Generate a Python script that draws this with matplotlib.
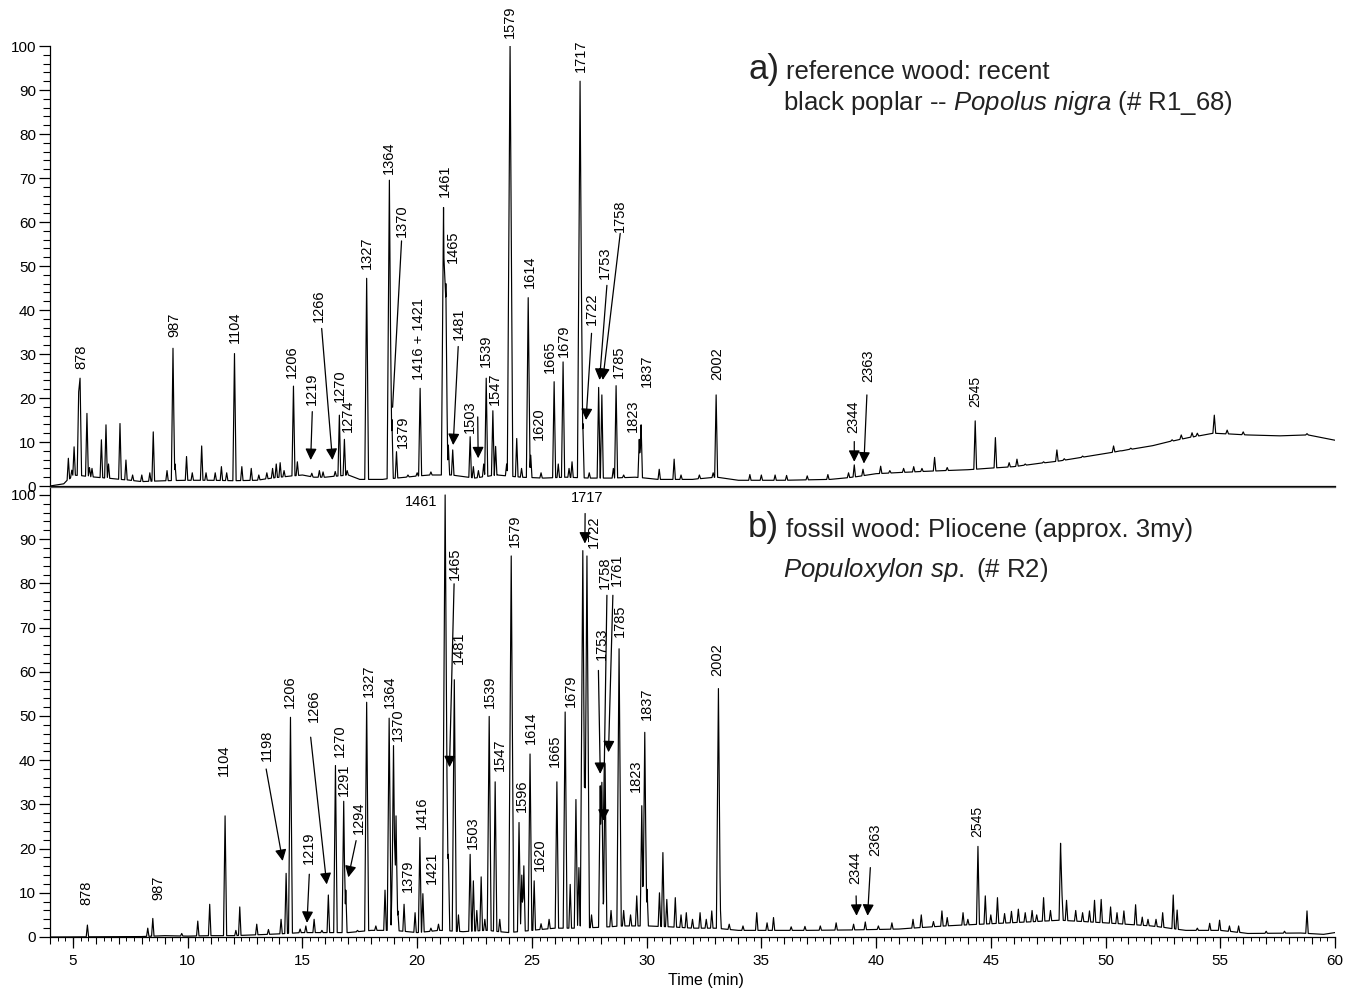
import numpy as np
import matplotlib
matplotlib.use("Agg")
import matplotlib.pyplot as plt
from matplotlib.ticker import MultipleLocator

plt.rcParams['font.family'] = ['Liberation Sans', 'DejaVu Sans']
plt.rcParams['mathtext.fontset'] = 'custom'
plt.rcParams['mathtext.rm'] = 'Liberation Sans'
plt.rcParams['mathtext.it'] = 'Liberation Sans:italic'

# ---------------- panel a) reference wood ----------------
a_base_t = [4.0, 4.6, 4.75, 5.0, 6.0, 7.5, 8.0, 9.0, 10.0, 11.0, 12.0, 13.0, 14.0, 15.0,
            15.5, 16.0, 17.0, 17.5, 18.5, 19.5, 20.5, 21.5, 22.5, 23.5, 24.5, 25.5, 26.5,
            27.5, 28.5, 29.5, 30.5, 32.0, 33.0, 34.0, 36.0, 38.0, 39.0, 40.0, 42.0, 44.0,
            46.0, 48.0, 50.0, 52.0, 53.25, 54.7, 56.2, 57.6, 58.8, 60.0]
a_base_h = [0.0, 0.5, 1.0, 2.5, 2.0, 1.3, 1.0, 1.2, 1.3, 1.3, 1.2, 1.3, 2.0, 2.5,
            2.0, 2.0, 2.5, 1.5, 1.5, 2.0, 2.5, 2.5, 1.8, 2.5, 2.0, 1.8, 2.0,
            1.8, 1.8, 2.0, 1.5, 1.5, 2.0, 1.3, 1.3, 1.5, 2.0, 2.8, 3.3, 3.7,
            4.4, 5.7, 7.4, 9.1, 10.6, 12.0, 11.6, 11.4, 11.6, 10.4]

a_peak_t = [4.80, 4.95, 5.05, 5.25, 5.31, 5.61, 5.72, 5.83, 6.24, 6.44, 6.55, 7.05, 7.31,
            7.6, 8.0, 8.35, 8.50, 9.1, 9.36, 9.45, 9.95, 10.2, 10.61, 10.8, 11.2, 11.47,
            11.7, 12.04, 12.36, 12.77, 13.1, 13.45, 13.7, 13.86, 14.03, 14.2, 14.61, 14.78,
            15.41, 15.74, 15.9, 16.43, 16.61, 16.83, 16.95, 17.80, 18.79, 18.90, 19.10,
            19.6, 20.0, 20.13, 20.6, 21.15, 21.25, 21.36, 21.55, 22.31, 22.45, 22.67, 22.9,
            23.01, 23.30, 23.42, 23.9, 24.05, 24.34, 24.55, 24.84, 24.95, 25.4, 25.97,
            26.15, 26.36, 26.62, 26.75, 27.10, 27.22, 27.5, 27.91, 28.05, 28.55, 28.67,
            29.0, 29.68, 29.76, 30.55, 31.20, 31.5, 32.3, 32.9, 33.03, 34.5, 35.0, 35.6,
            36.1, 37.0, 37.9, 38.8, 39.05, 39.43, 40.2, 40.6, 41.2, 41.64, 42.0, 42.55,
            43.1, 44.32, 45.2, 45.8, 46.14, 46.5, 47.3, 47.88, 48.2, 49.0, 50.35, 50.7,
            51.1, 51.3, 52.0, 52.9, 53.3, 53.77, 54.0, 54.74, 55.3, 56.0, 58.78]
a_peak_h = [6.3, 3.6, 8.9, 21.4, 24.5, 16.5, 4.2, 4.0, 10.5, 13.9, 5.0, 14.2, 5.9,
            2.5, 2.5, 3.0, 12.3, 3.5, 31.3, 5.0, 6.7, 3.0, 9.1, 3.0, 3.0, 4.4,
            3.0, 30.1, 4.4, 4.0, 2.5, 3.0, 4.0, 5.0, 5.3, 3.5, 22.7, 5.5,
            2.9, 3.5, 3.2, 3.3, 16.1, 10.6, 3.5, 47.2, 69.5, 15.1, 7.8,
            2.5, 3.0, 22.2, 3.2, 63.3, 46.0, 9.3, 8.2, 11.2, 4.4, 3.5, 5.0,
            24.5, 17.1, 9.0, 5.0, 100.0, 10.8, 4.0, 42.8, 7.0, 3.0, 23.7,
            5.0, 28.2, 4.0, 5.5, 92.0, 14.2, 3.0, 22.4, 20.7, 4.0, 22.8,
            2.5, 10.6, 13.9, 3.8, 6.1, 2.5, 2.5, 3.0, 20.7, 2.6, 2.5, 2.5,
            2.4, 2.3, 2.6, 3.0, 4.8, 3.8, 4.5, 3.5, 4.0, 4.4, 4.0, 6.5,
            4.2, 14.8, 11.0, 5.3, 6.1, 5.0, 5.5, 8.2, 6.2, 6.8, 9.1, 7.8,
            8.6, 8.2, 9.0, 10.5, 11.6, 12.1, 12.0, 16.1, 12.7, 12.3, 11.9]

a_lab_text = ['878', '987', '1104', '1206', '1219', '1266', '1270', '1274', '1327', '1364',
              '1370', '1379', '1416 + 1421', '1461', '1465', '1481', '1503', '1539', '1547',
              '1579', '1614', '1620', '1665', '1679', '1717', '1722', '1753', '1758', '1785',
              '1823', '1837', '2002', '2344', '2363']
a_lab_t = [5.35, 9.41, 12.06, 14.56, 15.41, 15.73, 16.64, 16.98, 17.80, 18.75,
           19.33, 19.37, 20.06, 21.19, 21.55, 21.83, 22.28, 22.99, 23.40,
           24.02, 24.92, 25.29, 25.80, 26.41, 27.13, 27.61, 28.19, 28.85, 28.77,
           29.40, 30.01, 33.06, 39.02, 39.67]
a_lab_y = [26.7, 33.9, 32.4, 24.5, 18.4, 37.3, 19.2, 12.2, 49.4, 71.0,
           56.5, 8.6, 24.1, 65.7, 50.6, 33.2, 12.0, 27.1, 18.4,
           101.9, 45.1, 10.4, 25.6, 29.4, 94.1, 36.6, 47.1, 57.8, 24.5,
           12.3, 22.6, 24.1, 12.0, 23.7]
# pointers: start t, start y, end t, end y, arrow head
a_arr = [(15.43, 16.9, 15.36, 5.9, True), (15.84, 35.8, 16.31, 5.9, True),
         (19.32, 55.7, 18.93, 17.9, False), (21.79, 31.7, 21.57, 9.3, True),
         (22.64, 15.7, 22.66, 6.3, True), (27.60, 34.7, 27.36, 15.0, True),
         (28.27, 45.6, 27.95, 24.1, True), (28.85, 57.4, 28.09, 24.1, True),
         (39.05, 10.1, 39.05, 5.5, True), (39.60, 20.7, 39.47, 5.1, True)]

# ---------------- panel b) fossil wood ----------------
b_base_t = [4.0, 8.0, 9.0, 10.0, 11.0, 12.0, 13.0, 14.0, 15.0, 16.0, 17.0, 18.0, 19.0, 20.0,
            21.0, 22.0, 23.0, 24.0, 25.0, 26.0, 27.0, 28.0, 29.0, 30.0, 31.0, 32.0, 33.0,
            34.0, 35.0, 37.0, 39.0, 41.0, 43.0, 45.0, 47.0, 48.0, 50.0, 52.0, 53.5, 55.0,
            56.2, 58.5, 59.5, 60.0]
b_base_h = [0.0, 0.1, 0.3, 0.2, 0.3, 0.3, 0.5, 0.7, 1.0, 1.0, 1.0, 1.5, 1.5, 1.0,
            1.5, 1.2, 1.5, 1.0, 1.5, 2.0, 2.0, 2.2, 2.5, 2.5, 2.3, 2.0, 2.0,
            1.5, 1.5, 1.5, 1.6, 1.8, 2.5, 3.0, 3.5, 3.8, 3.2, 2.5, 1.5, 1.5,
            0.8, 0.9, 0.6, 1.0]

b_peak_t = [5.63, 8.26, 8.48, 9.74, 10.44, 10.96, 11.63, 12.1, 12.27, 13.01, 13.52, 14.07,
            14.29, 14.48, 14.9, 15.15, 15.51, 15.85, 16.13, 16.44, 16.80, 16.89, 17.4,
            17.80, 18.2, 18.60, 18.78, 18.92, 18.97, 19.08, 19.16, 19.43, 19.91, 20.12,
            20.25, 20.6, 20.93, 21.22, 21.30, 21.36, 21.62, 21.8, 22.31, 22.45, 22.6,
            22.79, 22.95, 23.14, 23.40, 23.6, 24.10, 24.44, 24.56, 24.65, 24.92, 25.10,
            25.4, 25.75, 26.09, 26.45, 26.67, 26.92, 27.05, 27.22, 27.40, 27.6, 27.98,
            28.05, 28.19, 28.45, 28.80, 29.0, 29.3, 29.57, 29.79, 29.92, 30.02, 30.56,
            30.71, 30.88, 31.25, 31.5, 31.73, 32.0, 32.33, 32.6, 32.84, 33.13, 33.2,
            33.6, 34.2, 34.80, 35.25, 35.53, 36.3, 36.9, 37.57, 38.26, 39.02, 39.53,
            40.1, 40.69, 41.61, 41.97, 42.5, 42.87, 43.1, 43.79, 44.0, 44.44, 44.76,
            45.0, 45.29, 45.6, 45.9, 46.2, 46.5, 46.8, 47.0, 47.30, 47.6, 48.04, 48.1,
            48.3, 48.7, 49.0, 49.3, 49.52, 49.81, 50.22, 50.5, 50.8, 51.31, 51.6, 51.85,
            52.2, 52.49, 52.95, 53.12, 54.0, 54.54, 54.97, 55.4, 55.8, 57.0, 57.8, 58.78]
b_peak_h = [2.7, 2.0, 4.2, 0.8, 3.6, 7.4, 27.4, 1.5, 6.8, 2.9, 1.7, 4.0,
            14.4, 49.7, 1.8, 2.5, 4.0, 1.5, 9.5, 38.8, 30.7, 10.6, 1.5,
            53.1, 2.5, 10.6, 49.5, 15.3, 43.3, 27.4, 5.9, 7.4, 5.5, 22.5,
            9.8, 2.0, 2.9, 100.0, 36.3, 18.7, 58.2, 5.0, 18.7, 12.7, 6.0,
            13.6, 4.0, 49.9, 35.1, 4.0, 86.2, 25.9, 14.0, 16.1, 41.4, 12.7,
            3.0, 4.0, 35.1, 50.9, 11.9, 31.1, 15.7, 87.4, 86.2, 5.0, 34.2,
            35.0, 39.2, 6.0, 65.2, 6.0, 5.0, 9.3, 29.7, 46.3, 10.8, 10.0,
            19.1, 8.5, 8.9, 5.0, 5.5, 4.0, 5.5, 4.0, 5.9, 56.2, 8.2,
            2.9, 2.5, 5.5, 3.2, 4.4, 2.3, 2.4, 2.5, 3.2, 2.9, 3.4,
            2.5, 3.2, 4.0, 5.0, 3.5, 5.9, 4.4, 5.5, 4.0, 20.5, 9.3,
            5.0, 8.9, 5.3, 5.8, 6.3, 5.5, 6.0, 5.0, 8.9, 6.0, 21.2, 10.0,
            8.3, 6.0, 5.5, 5.9, 8.3, 8.5, 6.8, 5.5, 5.9, 7.3, 4.5, 4.0,
            4.0, 5.5, 9.5, 6.1, 2.0, 3.1, 3.8, 2.5, 2.5, 1.3, 1.3, 5.9]

b_lab_text = ['878', '987', '1104', '1198', '1206', '1219', '1266', '1270', '1291', '1294',
              '1327', '1364', '1370', '1379', '1416', '1421', '1465', '1481', '1503', '1539',
              '1547', '1579', '1596', '1614', '1620', '1665', '1679', '1722', '1753', '1758',
              '1761', '1785', '1823', '1837', '2002', '2344', '2363']
b_lab_t = [5.57, 8.72, 11.59, 13.45, 14.46, 15.26, 15.48, 16.64, 16.79, 17.44,
           17.88, 18.79, 19.18, 19.58, 20.20, 20.64, 21.65, 21.84, 22.45, 23.18,
           23.59, 24.27, 24.56, 24.95, 25.36, 26.01, 26.71, 27.71, 28.05, 28.19,
           28.70, 28.85, 29.55, 30.01, 33.09, 39.09, 39.96]
b_lab_y = [7.3, 8.3, 36.5, 39.9, 51.9, 16.6, 48.6, 40.8, 32.0, 23.4,
           54.3, 51.9, 44.3, 10.1, 24.4, 12.1, 80.7, 61.7, 19.9, 51.9,
           37.6, 88.3, 28.2, 43.7, 15.0, 38.5, 52.0, 87.9, 62.6, 78.8,
           79.4, 67.9, 32.7, 49.1, 59.0, 11.9, 18.4]
b_arr = [(13.42, 38.0, 14.14, 17.2, True), (15.30, 14.2, 15.20, 3.2, True),
         (15.36, 45.2, 16.06, 11.9, True), (17.34, 21.8, 17.00, 13.5, True),
         (21.61, 79.9, 21.41, 38.4, True), (27.32, 95.8, 27.31, 89.0, True),
         (27.90, 60.3, 27.98, 36.9, True), (28.27, 77.3, 28.12, 26.3, True),
         (28.53, 77.3, 28.34, 41.8, True), (39.13, 9.3, 39.15, 4.8, True),
         (39.75, 15.7, 39.63, 4.8, True)]


def build_trace(base_t, base_h, peak_t, peak_h):
    base_t = np.asarray(base_t, float)
    base_h = np.asarray(base_h, float)
    pt = np.asarray(peak_t, float)
    ph = np.asarray(peak_h, float)
    pw = 0.05 + 0.0007 * ph          # half width of each peak
    verts = np.unique(np.concatenate([base_t, pt - pw, pt, pt + pw]))
    y = np.interp(verts, base_t, base_h)
    pb = np.interp(pt, base_t, base_h)
    for t0, h0, w0, b0 in zip(pt, ph, pw, pb):
        d = np.abs(verts - t0)
        tri = b0 + (h0 - b0) * (1 - d / w0)
        y = np.where(d < w0, np.maximum(y, tri), y)
    return verts, y


def annotate_panel(ax, texts, ts, ys, arrows):
    for s, t, yv in zip(texts, ts, ys):
        ax.text(t, yv, s, rotation=90, ha='center', va='bottom', fontsize=10.5,
                clip_on=False)
    for t0, y0, t1, y1, head in arrows:
        style = '-|>' if head else '-'
        ax.annotate('', xy=(t1, y1), xytext=(t0, y0),
                    arrowprops=dict(arrowstyle=style, color='black', lw=0.9,
                                    mutation_scale=17, shrinkA=0, shrinkB=0))


W, H = 1349, 990
fig = plt.figure(figsize=(W / 100, H / 100), dpi=100)
ax1 = fig.add_axes([50 / W, 1 - 486 / H, 1285 / W, 440 / H])
ax2 = fig.add_axes([50 / W, 1 - 937 / H, 1285 / W, 450 / H])

xa, ya = build_trace(a_base_t, a_base_h, a_peak_t, a_peak_h)
xb, yb = build_trace(b_base_t, b_base_h, b_peak_t, b_peak_h)
ax1.plot(xa, ya, color='black', lw=0.85)
ax2.plot(xb, yb, color='black', lw=0.85)

for ax, top in ((ax1, 100), (ax2, 101.8)):
    ax.set_xlim(4, 60)
    ax.set_ylim(0, top)
    ax.spines['right'].set_visible(False)
    ax.yaxis.set_major_locator(MultipleLocator(10))
    ax.yaxis.set_minor_locator(MultipleLocator(2))
    ax.tick_params(axis='y', which='major', length=8, width=0.9, labelsize=11, pad=2)
    ax.tick_params(axis='y', which='minor', length=5, width=0.8)
    for sp in ax.spines.values():
        sp.set_linewidth(0.9)

ax1.spines['top'].set_visible(False)
ax1.set_yticks(range(0, 101, 10))
ax1.tick_params(axis='x', which='both', bottom=False, labelbottom=False)
ax2.set_yticks(range(0, 101, 10))
ax2.spines['top'].set_color('#555555')

ax2.xaxis.set_major_locator(MultipleLocator(5))
ax2.xaxis.set_minor_locator(MultipleLocator(1 / 3))
ax2.tick_params(axis='x', which='major', length=8, width=0.9, labelsize=11, pad=4)
ax2.tick_params(axis='x', which='minor', length=3, width=0.7)
sec = ax2.secondary_xaxis('bottom')
sec.set_xticks(np.arange(4, 61, 1))
sec.tick_params(length=5, width=0.8, labelbottom=False)
sec.spines['bottom'].set_visible(False)

annotate_panel(ax1, a_lab_text, a_lab_t, a_lab_y, a_arr)
annotate_panel(ax2, b_lab_text, b_lab_t, b_lab_y, b_arr)

# narrow labels for the late peak
ax1.text(44.32, 17.9, '2545', rotation=90, ha='center', va='bottom', fontsize=10,
         family=['Liberation Sans Narrow', 'Liberation Sans'])
ax2.text(44.42, 22.6, '2545', rotation=90, ha='center', va='bottom', fontsize=10,
         family=['Liberation Sans Narrow', 'Liberation Sans'])
# horizontal labels in panel b
ax2.text(20.87, 98.3, '1461', ha='right', va='center', fontsize=10.5)
ax2.text(27.39, 99.2, '1717', ha='center', va='center', fontsize=10.5)

# panel titles
tc = '#222222'
fig.text(748 / W, 1 - 79 / H, 'a)', fontsize=25, color=tc)
fig.text(786 / W, 1 - 79 / H, 'reference wood: recent', fontsize=18.5, color=tc)
fig.text(783 / W, 1 - 110 / H, r'black poplar -- $\it{Popolus\ nigra}$ (# R1_68)',
         fontsize=18.5, color=tc)
fig.text(748 / W, 1 - 537 / H, 'b)', fontsize=25, color=tc)
fig.text(786 / W, 1 - 537 / H, 'fossil wood: Pliocene (approx. 3my)', fontsize=18.5,
         color=tc)
fig.text(783 / W, 1 - 577 / H, r'$\it{Populoxylon\ sp.}$ (# R2)', fontsize=18.5,
         color=tc)

fig.text(706 / W, 1 - 980 / H, 'Time (min)', ha='center', va='center', fontsize=11.5)

fig.savefig('out.png', dpi=100)
